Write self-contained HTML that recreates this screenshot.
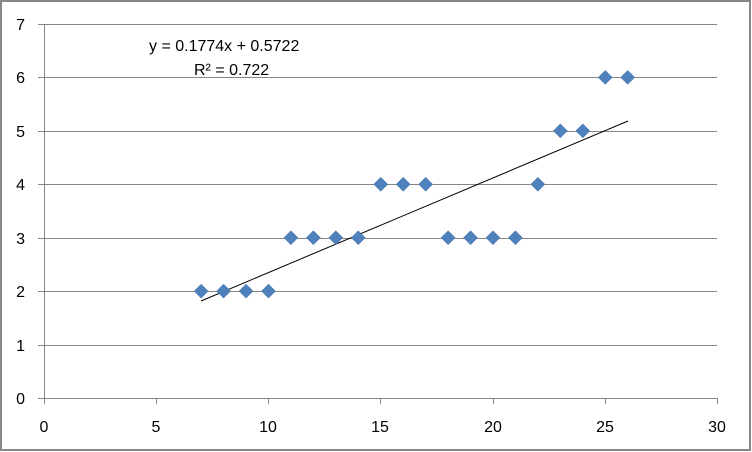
<!DOCTYPE html><html><head><style>body{margin:0;background:#fff}svg{display:block}text{font-family:"Liberation Sans",sans-serif;font-size:16px;fill:#000}</style></head><body>
<svg width="752" height="452" viewBox="0 0 752 452">
<rect x="1" y="1" width="749" height="449" fill="#fff" stroke="#888" stroke-width="2"/>
<g stroke="#868686" stroke-width="1">
<line x1="44" y1="24.5" x2="717" y2="24.5"/><line x1="44" y1="77.5" x2="717" y2="77.5"/><line x1="44" y1="131.5" x2="717" y2="131.5"/><line x1="44" y1="184.5" x2="717" y2="184.5"/><line x1="44" y1="238.5" x2="717" y2="238.5"/><line x1="44" y1="291.5" x2="717" y2="291.5"/><line x1="44" y1="345.5" x2="717" y2="345.5"/>
<line x1="38" y1="398.5" x2="717" y2="398.5"/><line x1="44.5" y1="24" x2="44.5" y2="404"/>
<line x1="38" y1="24.5" x2="44" y2="24.5"/><line x1="38" y1="77.5" x2="44" y2="77.5"/><line x1="38" y1="131.5" x2="44" y2="131.5"/><line x1="38" y1="184.5" x2="44" y2="184.5"/><line x1="38" y1="238.5" x2="44" y2="238.5"/><line x1="38" y1="291.5" x2="44" y2="291.5"/><line x1="38" y1="345.5" x2="44" y2="345.5"/>
<line x1="156.5" y1="398" x2="156.5" y2="404"/><line x1="268.5" y1="398" x2="268.5" y2="404"/><line x1="380.5" y1="398" x2="380.5" y2="404"/><line x1="493.5" y1="398" x2="493.5" y2="404"/><line x1="605.5" y1="398" x2="605.5" y2="404"/><line x1="717.5" y1="398" x2="717.5" y2="404"/>
</g>
<g text-anchor="end"><text x="25" y="30">7</text><text x="25" y="83">6</text><text x="25" y="137">5</text><text x="25" y="190">4</text><text x="25" y="244">3</text><text x="25" y="297">2</text><text x="25" y="351">1</text><text x="25" y="404">0</text></g>
<g text-anchor="middle"><text x="44" y="432">0</text><text x="156" y="432">5</text><text x="268" y="432">10</text><text x="380" y="432">15</text><text x="493" y="432">20</text><text x="605" y="432">25</text><text x="717" y="432">30</text></g>
<line x1="201" y1="301" x2="628" y2="121" stroke="#000" stroke-width="1"/>
<g fill="#4f81bd" stroke="#3a6aa3" stroke-width="0.5" id="pts"></g>
<text x="149" y="51">y = 0.1774x + 0.5722</text>
<text x="194" y="75">R² = 0.722</text>
</svg>
<script>
var d=[[7,2],[8,2],[9,2],[10,2],[11,3],[12,3],[13,3],[14,3],[15,4],[16,4],[17,4],[18,3],[19,3],[20,3],[21,3],[22,4],[23,5],[24,5],[25,6],[26,6]];
var g=document.getElementById('pts'),s='';
d.forEach(function(p){var x=44+p[0]*22.45,y=398-p[1]*53.43;s+='<polygon points="'+x+','+(y-7)+' '+(x+7)+','+y+' '+x+','+(y+7)+' '+(x-7)+','+y+'"/>';});
g.innerHTML=s;
</script>
</body></html>
